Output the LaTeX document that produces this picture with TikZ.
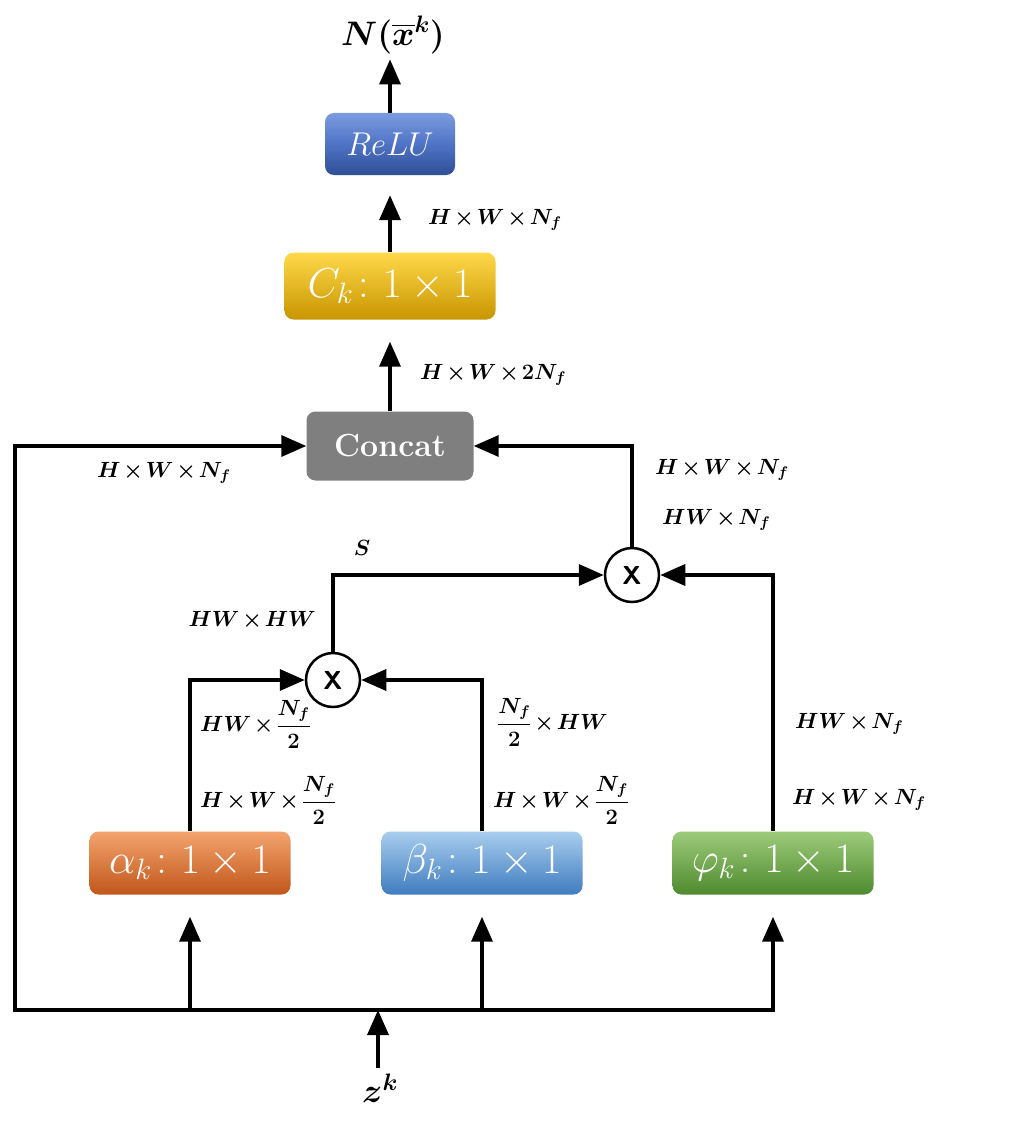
\RequirePackage{fix-cm}
\documentclass[tikz,border=0pt]{standalone}
\usepackage{amsmath,amssymb}
\usepackage{xcolor}
\usepackage{tikz}
\usetikzlibrary{arrows.meta, positioning}

\definecolor{concatgray}{HTML}{7F7F7F}
\newcommand{\by}{\mskip2mu\mathord{\times}\mskip2mu}

\begin{document}
\begin{tikzpicture}[
    x=1pt, y=-1pt,
    block/.style={rectangle, rounded corners=9pt, text=white, inner sep=0pt, minimum width=201pt, minimum height=63pt, font=\fontsize{42}{48}\selectfont},
    prod/.style={circle, draw, line width=2.5pt, fill=white, minimum size=54pt, inner sep=0pt, font=\fontsize{26}{30}\selectfont\sffamily\bfseries},
    dim/.style={anchor=west, inner sep=0pt, font=\fontsize{22}{26}\selectfont\boldmath},
    line/.style={draw, line width=3.5pt, -{Triangle[length=25pt,width=21pt]}}
]
    \useasboundingbox (0,0) rectangle (1026,1121);

    % output side
    \node [font=\fontsize{34}{40}\selectfont\boldmath] (out) at (393,35) {$N(\overline{x}^{k})$};
    \node [block, minimum width=130pt, minimum height=62pt, top color={rgb,255:red,124;green,155;blue,224}, bottom color={rgb,255:red,47;green,79;blue,149}, middle color={rgb,255:red,79;green,115;blue,197}, font=\fontsize{33}{38}\selectfont] (relu) at (390,144) {$ReLU$};
    \node [block, minimum width=211pt, minimum height=67pt, top color={rgb,255:red,255;green,216;blue,74}, middle color={rgb,255:red,255;green,192;blue,0}, bottom color={rgb,255:red,200;green,150;blue,0}] (ck) at (390,286) {$C_k\colon 1\times 1$};
    \node [block, minimum width=167pt, minimum height=69pt, fill=concatgray, font=\fontsize{32}{38}\selectfont\bfseries] (concat) at (390,446) {Concat};

    % products
    \node [prod] (prodphi) at (632,575) {X};
    \node [prod] (prodab) at (333,680) {X};

    % 1x1 convolutions
    \node [block, top color={rgb,255:red,244;green,164;blue,110}, middle color={rgb,255:red,232;green,128;blue,62}, bottom color={rgb,255:red,192;green,86;blue,26}] (alpha) at (190,863) {$\alpha_k\colon 1\times 1$};
    \node [block, top color={rgb,255:red,168;green,205;blue,238}, middle color={rgb,255:red,111;green,166;blue,220}, bottom color={rgb,255:red,63;green,124;blue,191}] (beta) at (482,863) {$\beta_k\colon 1\times 1$};
    \node [block, top color={rgb,255:red,157;green,203;blue,122}, middle color={rgb,255:red,116;green,174;blue,78}, bottom color={rgb,255:red,78;green,138;blue,46}] (phi) at (773,863) {$\varphi_k\colon 1\times 1$};

    % input
    \node [font=\fontsize{34}{40}\selectfont\boldmath] (zk) at (380,1088) {$z^{k}$};
    \coordinate (busl) at (15,1010);
    \coordinate (busr) at (775,1010);
    \coordinate (busm) at (378,1010);

    % connectors
    \path [line] (busr) -- (busl) |- (concat.west);
    \path [line, shorten <=2pt] (zk.north -| busm) -- (busm);
    \path [line, shorten >=22pt] (alpha.south |- busl) -- (alpha.south);
    \path [line, shorten >=22pt] (beta.south |- busl) -- (beta.south);
    \path [line, shorten >=22pt] (phi.south |- busl) -- (phi.south);

    \path [line] (alpha.north) |- (prodab.west);
    \path [line] (beta.north) |- (prodab.east);
    \path [line] (prodab.north) |- (prodphi.west);
    \path [line] (phi.north) |- (prodphi.east);

    \path [line] (prodphi.north) |- (concat.east);
    \path [line, shorten >=22pt] (concat.north) -- (ck.south);
    \path [line, shorten >=20pt] (ck.north) -- (relu.south);
    \path [line, shorten >=2pt] (relu.north) -- (relu.north |- out.south);

    % sizes
    \node [dim] (d1) at (428,220) {$H\by W\by N_f$};
    \node [dim] (d2) at (420,375) {$H\by W\by 2N_f$};
    \node [dim] (d3) at (97,473) {$H\by W\by N_f$};
    \node [dim] (d4) at (655,470) {$H\by W\by N_f$};
    \node [dim] (d5) at (662,520) {$HW\by N_f$};
    \node [dim, anchor=center] (s) at (362,548) {$S$};
    \node [dim, anchor=east] (d6) at (316,620) {$HW\by HW$};
    \node [dim] (d7) at (200,724) {$HW\by\dfrac{N_f}{2}$};
    \node [dim] (d8) at (200,800) {$H\by W\by\dfrac{N_f}{2}$};
    \node [dim] (d9) at (497,722) {$\dfrac{N_f}{2}\by HW$};
    \node [dim] (d10) at (493,800) {$H\by W\by\dfrac{N_f}{2}$};
    \node [dim] (d11) at (795,724) {$HW\by N_f$};
    \node [dim] (d12) at (792,800) {$H\by W\by N_f$};
\end{tikzpicture}
\end{document}
